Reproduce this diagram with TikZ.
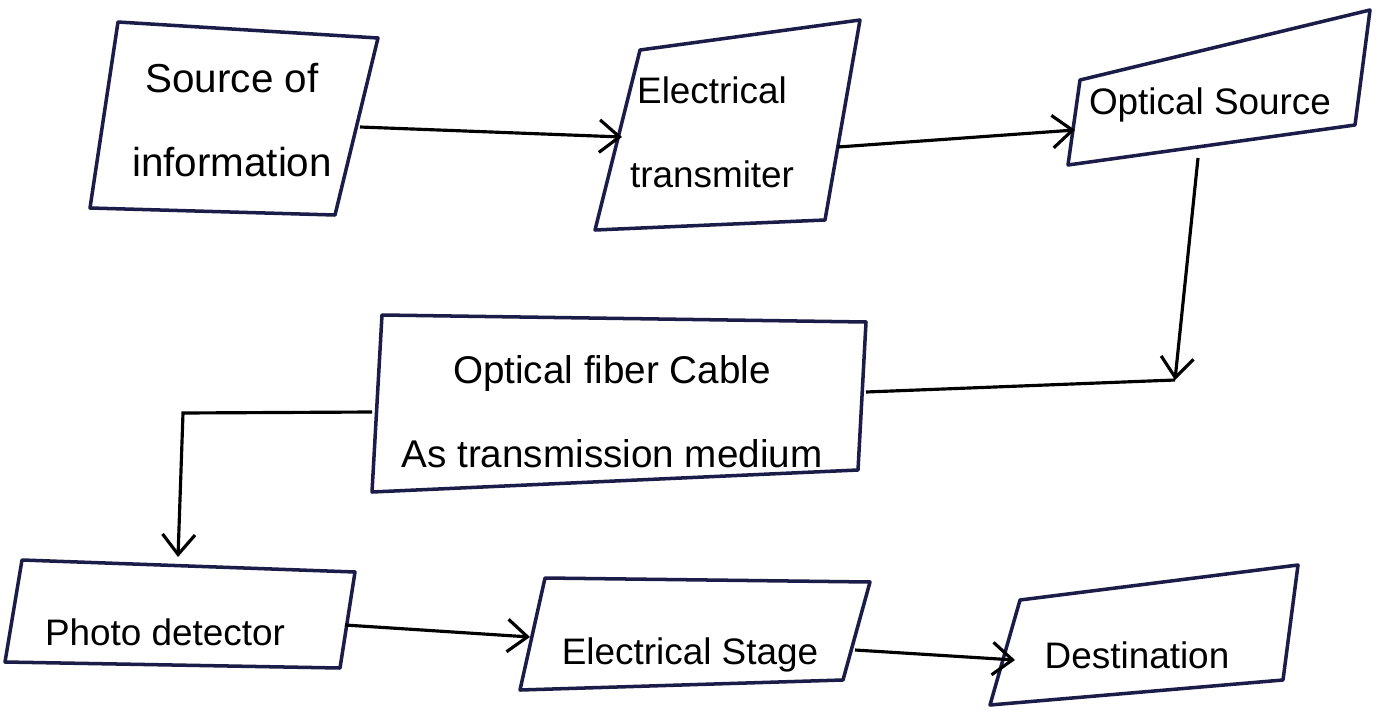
\documentclass[tikz,border=0pt]{standalone}
\usepackage{fontspec}
\setmainfont{Liberation Sans}
\usetikzlibrary{arrows.meta}
\definecolor{boxc}{HTML}{1C1C48}
\begin{document}
\begin{tikzpicture}[x=0.02cm,y=-0.02cm,
 box/.style={draw=boxc,line width=2pt,line join=round},
 lbl/.style={font=\fontsize{21}{48}\selectfont,align=center,text=black},
 arr/.style={line width=1.8pt,-{Straight Barb[length=4mm,width=6.5mm,line width=1.8pt]}},
 ln/.style={line width=1.8pt}]
\useasboundingbox (0,0) rectangle (1386,710);
\fill[white] (0,0) rectangle (1386,710);
% boxes
\draw[box] (118,22) -- (378,38) -- (335,215) -- (90,208) -- cycle;
\draw[box] (640,50) -- (860,20) -- (825,220) -- (595,230) -- cycle;
\draw[box] (1080,80) -- (1370,10) -- (1355,125) -- (1068,165) -- cycle;
\draw[box] (382,315) -- (866,322) -- (858,470) -- (372,492) -- cycle;
\draw[box] (22,560) -- (355,572) -- (340,668) -- (5,662) -- cycle;
\draw[box] (545,578) -- (870,582) -- (843,680) -- (520,690) -- cycle;
\draw[box] (1020,600) -- (1298,565) -- (1283,680) -- (990,705) -- cycle;
% labels
\node[lbl,font=\fontsize{23}{48}\selectfont] (b1) at (232,120) {Source of\\information};
\node[lbl] (b2) at (712,132) {Electrical\\transmiter};
\node[lbl] (b3) at (1210,105) {Optical Source};
\node[lbl,font=\fontsize{22}{48}\selectfont] (b4) at (612,412) {Optical fiber Cable\\As transmission medium};
\node[lbl] (b5) at (165,632) {Photo detector};
\node[lbl] (b6) at (690,655) {Electrical Stage};
\node[lbl] (b7) at (1137,655) {Destination};
% connector endpoints
\coordinate (b1r) at (360,127);
\coordinate (b2l) at (622,137);
\coordinate (b2r) at (838,147);
\coordinate (b3l) at (1075,130);
\coordinate (b3b) at (1198,158);
\coordinate (j) at (1175,380);
\coordinate (b4r) at (866,392);
\coordinate (b4l) at (372,412);
\coordinate (k) at (183,413);
\coordinate (b5t) at (178,557);
\coordinate (b5r) at (345,625);
\coordinate (b6l) at (530,637);
\coordinate (b6r) at (855,650);
\coordinate (b7l) at (1015,660);
% connectors
\draw[arr] (b1r) -- (b2l);
\draw[arr] (b2r) -- (b3l);
\draw[arr] (b3b) -- (j);
\draw[ln] (b4r) -- (j);
\draw[arr] (b4l) -- (k) -- (b5t);
\draw[arr] (b5r) -- (b6l);
\draw[arr] (b6r) -- (b7l);
\end{tikzpicture}
\end{document}
